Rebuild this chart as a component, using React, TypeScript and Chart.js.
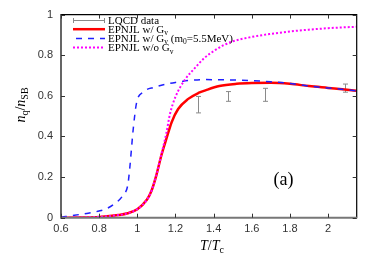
import React, { useEffect, useRef } from "react";
import { Chart, registerables } from "chart.js";

Chart.register(...registerables);

const xTicks = [0.6, 0.8, 1, 1.2, 1.4, 1.6, 1.8, 2];
const yTicks = [0, 0.2, 0.4, 0.6, 0.8, 1];

// EPNJL w/ Gv (red solid)
const redT = [0.6, 0.7, 0.8, 0.9, 0.95, 1.0, 1.05, 1.075, 1.1, 1.127, 1.153, 1.18, 1.214, 1.267, 1.32, 1.36, 1.43, 1.52, 1.6, 1.7, 1.8, 1.9, 2.0, 2.1, 2.15];
const redV = [0.0, 0.001, 0.004, 0.013, 0.022, 0.042, 0.088, 0.134, 0.21, 0.31, 0.39, 0.47, 0.535, 0.585, 0.614, 0.628, 0.648, 0.659, 0.663, 0.664, 0.659, 0.648, 0.639, 0.63, 0.625];

// EPNJL w/ Gv (m0=5.5MeV) (blue dashed)
const blueT = [0.6, 0.67, 0.735, 0.8, 0.84, 0.88, 0.925, 0.95, 0.96, 0.979, 0.996, 1.03, 1.09, 1.2, 1.35, 1.5, 1.6, 1.7, 1.8, 1.9, 2.0, 2.1, 2.15];
const blueV = [0.002, 0.012, 0.021, 0.033, 0.045, 0.068, 0.11, 0.16, 0.24, 0.44, 0.565, 0.618, 0.642, 0.666, 0.68, 0.678, 0.675, 0.669, 0.661, 0.648, 0.639, 0.63, 0.625];

// EPNJL w/o Gv (magenta dotted)
const magT = [0.6, 0.7, 0.8, 0.9, 0.95, 1.0, 1.05, 1.075, 1.1, 1.127, 1.153, 1.171, 1.2, 1.25, 1.3, 1.35, 1.4, 1.45, 1.5, 1.6, 1.7, 1.8, 1.9, 2.0, 2.1, 2.15];
const magV = [0.0, 0.001, 0.004, 0.013, 0.022, 0.042, 0.088, 0.134, 0.21, 0.315, 0.42, 0.51, 0.595, 0.68, 0.735, 0.785, 0.82, 0.848, 0.868, 0.89, 0.905, 0.917, 0.926, 0.933, 0.938, 0.94];

// LQCD data (error bars)
const lqcdT = [1.32, 1.478, 1.67, 2.089];
const lqcdLo = [0.516, 0.573, 0.573, 0.618];
const lqcdHi = [0.597, 0.621, 0.637, 0.658];

type Seg = { t: string; sub?: boolean; it?: boolean };

function richWidth(ctx: CanvasRenderingContext2D, segs: Seg[], size: number, subSize: number, fam: string) {
  let w = 0;
  for (const s of segs) {
    ctx.font = `${s.it ? "italic " : ""}${s.sub ? subSize : size}px ${fam}`;
    w += ctx.measureText(s.t).width;
  }
  return w;
}

function drawRich(ctx: CanvasRenderingContext2D, x: number, y: number, segs: Seg[], size: number, subSize: number, fam: string, align: "left" | "center", subOff: number) {
  const w = richWidth(ctx, segs, size, subSize, fam);
  let cx = align === "center" ? x - w / 2 : x;
  ctx.textAlign = "left";
  ctx.textBaseline = "alphabetic";
  for (const s of segs) {
    ctx.font = `${s.it ? "italic " : ""}${s.sub ? subSize : size}px ${fam}`;
    ctx.fillText(s.t, cx, s.sub ? y + subOff : y);
    cx += ctx.measureText(s.t).width;
  }
}

const SERIF = "'Liberation Serif', 'DejaVu Serif', serif";

const legendItems: { segs: Seg[]; kind: string }[] = [
  { segs: [{ t: "LQCD data" }], kind: "err" },
  { segs: [{ t: "EPNJL w/ G" }, { t: "v", sub: true }], kind: "red" },
  { segs: [{ t: "EPNJL w/ G" }, { t: "v", sub: true }, { t: " (m" }, { t: "0", sub: true }, { t: "=5.5MeV)" }], kind: "blue" },
  { segs: [{ t: "EPNJL w/o G" }, { t: "v", sub: true }], kind: "mag" },
];

const errPlugin = {
  id: "errbars",
  beforeDatasetsDraw(chart: any) {
    const { ctx, scales } = chart;
    const xs = scales.x, ys = scales.y;
    ctx.save();
    ctx.strokeStyle = "#8a8a8a";
    ctx.lineWidth = 1;
    for (let i = 0; i < lqcdT.length; i++) {
      const px = Math.round(xs.getPixelForValue(lqcdT[i])) + 0.5;
      const p1 = ys.getPixelForValue(lqcdLo[i]);
      const p2 = ys.getPixelForValue(lqcdHi[i]);
      ctx.beginPath();
      ctx.moveTo(px, p1);
      ctx.lineTo(px, p2);
      ctx.moveTo(px - 2.5, p1);
      ctx.lineTo(px + 2.5, p1);
      ctx.moveTo(px - 2.5, p2);
      ctx.lineTo(px + 2.5, p2);
      ctx.stroke();
    }
    ctx.restore();
  },
};

const framePlugin = {
  id: "frame",
  afterDraw(chart: any) {
    const { ctx, chartArea: a, scales } = chart;
    const xs = scales.x, ys = scales.y;
    ctx.save();
    ctx.strokeStyle = "#000";
    ctx.lineWidth = 1.2;
    ctx.beginPath();
    ctx.moveTo(a.left, a.bottom);
    ctx.lineTo(a.left, a.top);
    ctx.lineTo(a.right, a.top);
    ctx.lineTo(a.right, a.bottom);
    ctx.stroke();
    ctx.strokeStyle = "#777";
    ctx.lineWidth = 2;
    ctx.beginPath();
    ctx.moveTo(a.left - 1, a.bottom);
    ctx.lineTo(a.right + 0.5, a.bottom);
    ctx.stroke();
    ctx.strokeStyle = "#333";
    ctx.lineWidth = 1;
    const tl = 4;
    ctx.beginPath();
    for (const v of xTicks) {
      const px = Math.round(xs.getPixelForValue(v)) + 0.5;
      ctx.moveTo(px, a.bottom);
      ctx.lineTo(px, a.bottom - tl);
      ctx.moveTo(px, a.top);
      ctx.lineTo(px, a.top + tl);
    }
    for (const v of yTicks) {
      const py = Math.round(ys.getPixelForValue(v)) + 0.5;
      ctx.moveTo(a.left, py);
      ctx.lineTo(a.left + tl, py);
      ctx.moveTo(a.right, py);
      ctx.lineTo(a.right - tl, py);
    }
    ctx.stroke();

    const lx0 = 73, lx1 = 105, tx = 108;
    const rows = [20, 29.2, 38.4, 47.6];
    legendItems.forEach((it, i) => {
      const y = rows[i];
      ctx.save();
      ctx.setLineDash([]);
      if (it.kind === "err") {
        ctx.strokeStyle = "#8a8a8a";
        ctx.lineWidth = 1;
        ctx.beginPath();
        ctx.moveTo(lx0, y + 0.5);
        ctx.lineTo(lx1, y + 0.5);
        ctx.moveTo(lx0 + 0.5, y - 2);
        ctx.lineTo(lx0 + 0.5, y + 3);
        ctx.moveTo(lx1 - 0.5, y - 2);
        ctx.lineTo(lx1 - 0.5, y + 3);
        ctx.stroke();
      } else if (it.kind === "red") {
        ctx.strokeStyle = "#ff0000";
        ctx.lineWidth = 2.5;
        ctx.beginPath();
        ctx.moveTo(lx0, y);
        ctx.lineTo(lx1, y);
        ctx.stroke();
      } else if (it.kind === "blue") {
        ctx.strokeStyle = "#2020ff";
        ctx.lineWidth = 1.5;
        ctx.setLineDash([6, 6]);
        ctx.beginPath();
        ctx.moveTo(lx0 + 3, y);
        ctx.lineTo(lx1, y);
        ctx.stroke();
      } else {
        ctx.strokeStyle = "#ff00ff";
        ctx.lineWidth = 2;
        ctx.setLineDash([2, 2]);
        ctx.beginPath();
        ctx.moveTo(lx0, y);
        ctx.lineTo(lx1, y);
        ctx.stroke();
      }
      ctx.restore();
      ctx.fillStyle = "#000";
      drawRich(ctx, tx, y + 3.5, it.segs, 11, 7.5, SERIF, "left", 2.5);
    });

    ctx.fillStyle = "#000";
    ctx.font = `18px ${SERIF}`;
    ctx.textAlign = "center";
    ctx.textBaseline = "middle";
    ctx.fillText("(a)", 283.5, 180);

    drawRich(ctx, 212, 249.5, [{ t: "T", it: true }, { t: "/" }, { t: "T", it: true }, { t: "c", sub: true }], 14, 10, SERIF, "center", 3);

    ctx.save();
    ctx.translate(25, 105);
    ctx.rotate(-Math.PI / 2);
    drawRich(ctx, 0, 0, [{ t: "n", it: true }, { t: "q", sub: true }, { t: "/" }, { t: "n", it: true }, { t: "SB", sub: true }], 14, 10, SERIF, "center", 3);
    ctx.restore();
    ctx.restore();
  },
};

export default function App() {
  const ref = useRef<HTMLCanvasElement | null>(null);
  useEffect(() => {
    if (!ref.current) return;
    const toXY = (t: number[], v: number[]) => t.map((x, i) => ({ x, y: v[i] }));
    const chart = new Chart(ref.current, {
      type: "line",
      data: {
        datasets: [
          {
            label: "EPNJL w/o Gv",
            data: toXY(magT, magV),
            borderColor: "#ff00ff",
            borderWidth: 2,
            borderDash: [2, 2],
            pointRadius: 0,
            cubicInterpolationMode: "monotone",
            fill: false,
          },
          {
            label: "EPNJL w/ Gv (m0=5.5MeV)",
            data: toXY(blueT, blueV),
            borderColor: "#2020ff",
            borderWidth: 1.5,
            borderDash: [6, 6],
            pointRadius: 0,
            cubicInterpolationMode: "monotone",
            fill: false,
          },
          {
            label: "EPNJL w/ Gv",
            data: toXY(redT, redV),
            borderColor: "#ff0000",
            borderWidth: 2.5,
            pointRadius: 0,
            cubicInterpolationMode: "monotone",
            fill: false,
          },
        ],
      },
      options: {
        responsive: false,
        animation: false,
        devicePixelRatio: 1,
        layout: { padding: { top: 11, right: 17.3, left: 0, bottom: 0 } },
        plugins: { legend: { display: false }, tooltip: { enabled: false } },
        scales: {
          x: {
            type: "linear",
            min: 0.6,
            max: 2.15,
            grid: { display: false, drawTicks: false },
            border: { display: false },
            afterBuildTicks: (s: any) => {
              s.ticks = xTicks.map((v) => ({ value: v }));
            },
            afterFit: (s: any) => {
              s.height = 43.3;
            },
            ticks: {
              padding: 5,
              autoSkip: false,
              maxRotation: 0,
              color: "#333",
              font: { family: "'Liberation Sans', Arial, sans-serif", size: 11 },
              callback: (v: any) => String(v),
            },
          },
          y: {
            type: "linear",
            min: 0,
            max: 1,
            grid: { display: false, drawTicks: false },
            border: { display: false },
            afterBuildTicks: (s: any) => {
              s.ticks = yTicks.map((v) => ({ value: v }));
            },
            afterFit: (s: any) => {
              s.width = 61;
            },
            ticks: {
              padding: 8,
              color: "#333",
              font: { family: "'Liberation Sans', Arial, sans-serif", size: 11 },
              callback: (v: any) => String(v),
            },
          },
        },
      },
      plugins: [errPlugin, framePlugin],
    } as any);
    return () => chart.destroy();
  }, []);
  return (
    <div style={{ position: "fixed", left: 0, top: 0, width: 374, height: 261, background: "#fff" }}>
      <canvas ref={ref} width={374} height={261} />
    </div>
  );
}
